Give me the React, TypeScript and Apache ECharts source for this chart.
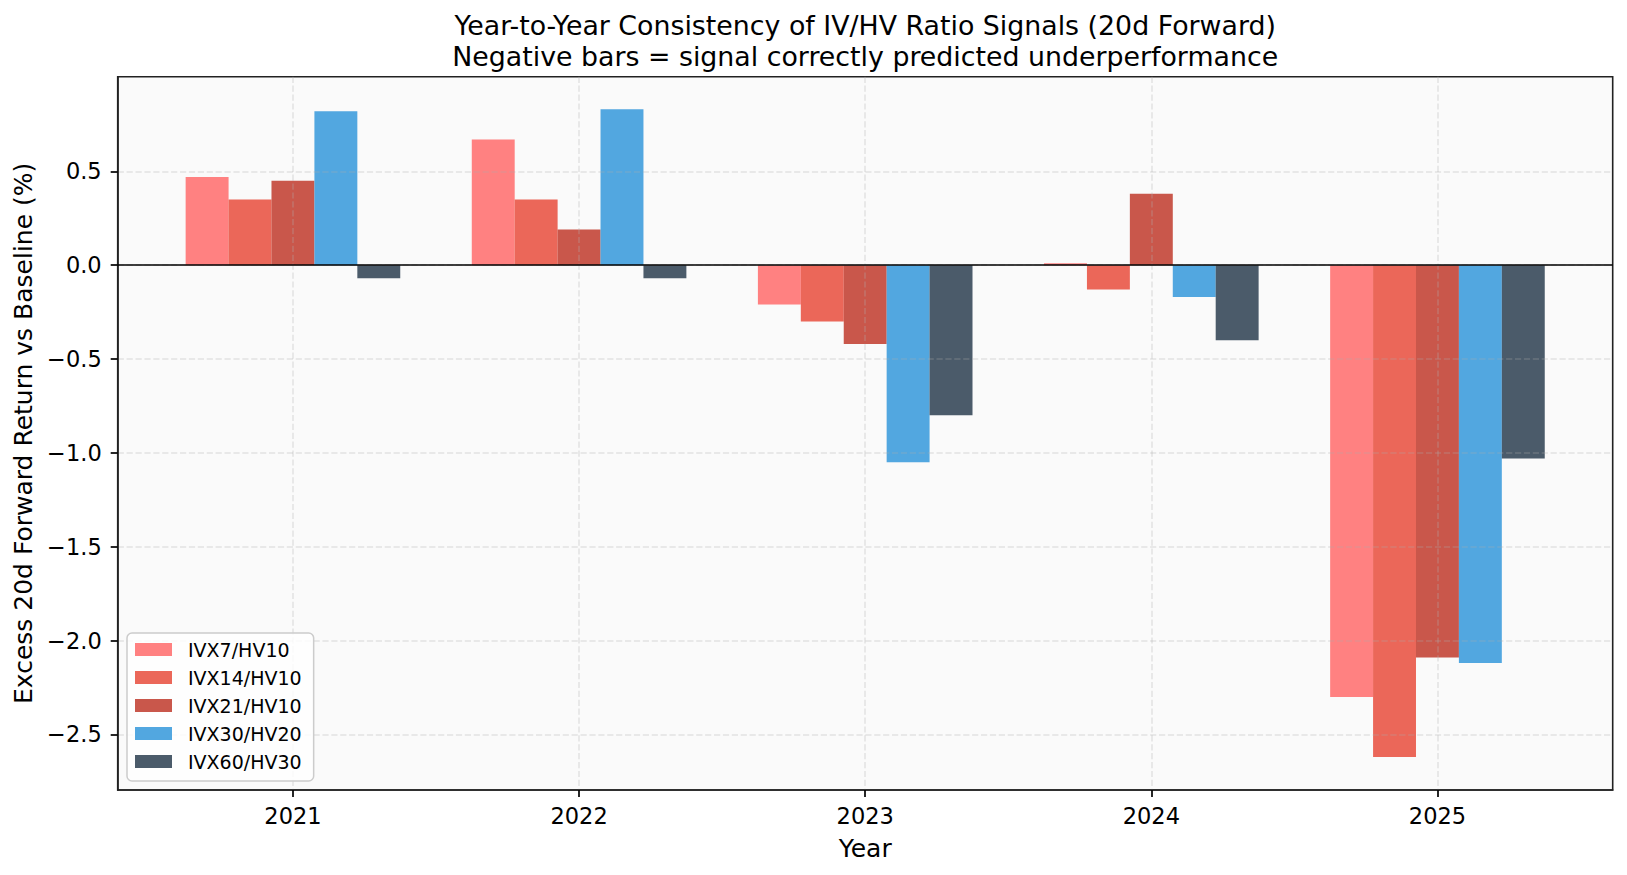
import React, { useEffect, useRef } from 'react';
import * as echarts from 'echarts';

const years = ['2021', '2022', '2023', '2024', '2025'];
const seriesNames = ['IVX7/HV10', 'IVX14/HV10', 'IVX21/HV10', 'IVX30/HV20', 'IVX60/HV30'];
const ivx7 = [0.47, 0.67, -0.21, 0.01, -2.3];
const ivx14 = [0.35, 0.35, -0.3, -0.13, -2.62];
const ivx21 = [0.45, 0.19, -0.42, 0.38, -2.09];
const ivx30 = [0.82, 0.83, -1.05, -0.17, -2.12];
const ivx60 = [-0.07, -0.07, -0.8, -0.4, -1.03];
const seriesValues = [ivx7, ivx14, ivx21, ivx30, ivx60];
const colors = ['#FF6B6B', '#E74C3C', '#C0392B', '#3498DB', '#2C3E50'];
const yTicks = [-2.5, -2.0, -1.5, -1.0, -0.5, 0.0, 0.5];
const xTicks = [0, 1, 2, 3, 4];

const titleLine1 = 'Year-to-Year Consistency of IV/HV Ratio Signals (20d Forward)';
const titleLine2 = 'Negative bars = signal correctly predicted underperformance';

const FONT = '"DejaVu Sans", "Liberation Sans", sans-serif';
const BAR_W = 0.15;

export default function App() {
  const ref = useRef<HTMLDivElement>(null);

  useEffect(() => {
    if (!ref.current) return;
    const chart = echarts.init(ref.current, undefined, { renderer: 'svg' });

    const gridLeft = 117.7;
    const gridTop = 76.7;
    const gridW = 1495;
    const gridH = 713.3;
    const cx = gridLeft + gridW / 2;

    const series: any[] = seriesValues.map((vals, i) => {
      const offset = (i - 2) * BAR_W;
      const s: any = {
        name: seriesNames[i],
        type: 'custom',
        itemStyle: { color: colors[i], opacity: 0.85 },
        encode: { x: 0, y: 1 },
        data: vals.map((v, k) => [k, v]),
        renderItem: (params: any, api: any) => {
          const x = api.value(0) + offset;
          const v = api.value(1);
          const p0 = api.coord([x - BAR_W / 2, v]);
          const p1 = api.coord([x + BAR_W / 2, 0]);
          return {
            type: 'rect',
            shape: {
              x: p0[0],
              y: Math.min(p0[1], p1[1]),
              width: p1[0] - p0[0],
              height: Math.abs(p1[1] - p0[1]),
            },
            style: { fill: colors[i], opacity: 0.85 },
          };
        },
      };
      if (i === seriesValues.length - 1) {
        s.markLine = {
          silent: true,
          symbol: ['none', 'none'],
          label: { show: false },
          lineStyle: { color: '#000', width: 1.5, type: 'solid' },
          data: [{ yAxis: 0 }],
        };
      }
      return s;
    });

    const axisLineStyle = { show: true, onZero: false, lineStyle: { color: '#222', width: 1.6 } };

    chart.setOption({
      animation: false,
      backgroundColor: '#ffffff',
      grid: {
        left: gridLeft,
        top: gridTop,
        width: gridW,
        height: gridH,
        show: true,
        backgroundColor: '#fafafa',
        borderColor: '#222',
        borderWidth: 1.6,
        containLabel: false,
      },
      graphic: [
        {
          type: 'text',
          x: cx,
          y: 25,
          z: 10,
          style: {
            text: titleLine1,
            fontSize: 26.8,
            fontFamily: FONT,
            fill: '#000',
            align: 'center',
            verticalAlign: 'middle',
          },
        },
        {
          type: 'text',
          x: cx,
          y: 56,
          z: 10,
          style: {
            text: titleLine2,
            fontSize: 26.8,
            fontFamily: FONT,
            fill: '#000',
            align: 'center',
            verticalAlign: 'middle',
          },
        },
      ],
      legend: {
        orient: 'vertical',
        left: 127,
        top: 633,
        data: seriesNames,
        icon: 'rect',
        itemWidth: 37,
        itemHeight: 13,
        itemGap: 9,
        padding: [7, 12, 10, 8],
        backgroundColor: 'rgba(255,255,255,0.8)',
        borderColor: '#cccccc',
        borderWidth: 1.5,
        borderRadius: 5,
        selectedMode: false,
        textStyle: {
          fontSize: 19,
          lineHeight: 19,
          fontFamily: FONT,
          color: '#000',
          padding: [0, 0, 0, 11],
        },
      },
      xAxis: {
        type: 'value',
        min: -0.6125,
        max: 4.6125,
        z: 3,
        name: 'Year',
        nameLocation: 'middle',
        nameGap: 46,
        nameTextStyle: { fontSize: 25, fontFamily: FONT, color: '#000' },
        axisLine: axisLineStyle,
        axisTick: {
          show: true,
          inside: false,
          customValues: xTicks,
          length: 7,
          lineStyle: { color: '#000', width: 1.7 },
        },
        axisLabel: {
          customValues: xTicks,
          margin: 14,
          fontSize: 22.5,
          fontFamily: FONT,
          color: '#000',
          formatter: (v: number) => years[Math.round(v)] ?? '',
        },
        splitLine: {
          show: true,
          lineStyle: { color: 'rgba(176,176,176,0.3)', width: 1.6, type: [6.2, 2.7] },
        },
      },
      yAxis: {
        type: 'value',
        min: -2.796,
        max: 1.004,
        z: 3,
        name: 'Excess 20d Forward Return vs Baseline (%)',
        nameLocation: 'middle',
        nameRotate: 90,
        nameGap: 79,
        nameTextStyle: { fontSize: 25, fontFamily: FONT, color: '#000' },
        axisLine: axisLineStyle,
        axisTick: {
          show: true,
          inside: false,
          customValues: yTicks,
          length: 7,
          lineStyle: { color: '#000', width: 1.7 },
        },
        axisLabel: {
          customValues: yTicks,
          margin: 16,
          fontSize: 22.5,
          fontFamily: FONT,
          color: '#000',
          formatter: (v: number) => {
            const s = Math.abs(v).toFixed(1);
            return v < -1e-9 ? '\u2212' + s : s;
          },
        },
        splitLine: {
          show: true,
          lineStyle: { color: 'rgba(176,176,176,0.3)', width: 1.6, type: [6.2, 2.7] },
        },
      },
      series,
    });

    return () => {
      chart.dispose();
    };
  }, []);

  return (
    <div
      ref={ref}
      style={{ position: 'absolute', left: 0, top: 0, width: 1627, height: 875 }}
    />
  );
}
